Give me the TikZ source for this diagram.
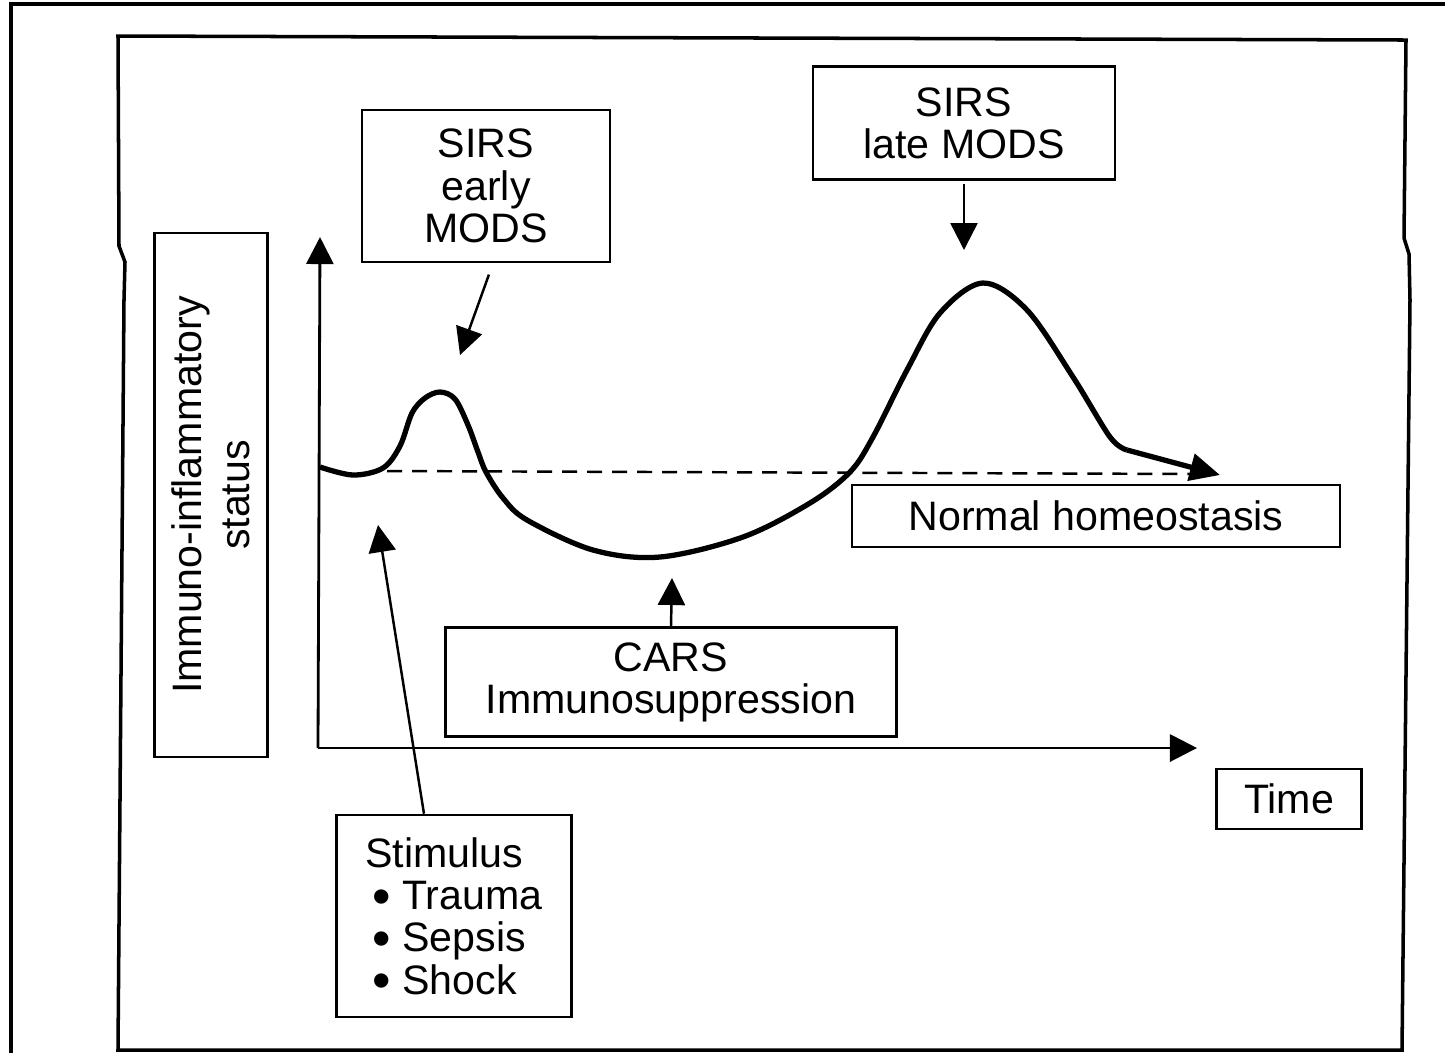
\documentclass[tikz,border=0pt]{standalone}
\usepackage{fontspec}
\setmainfont{Liberation Sans}
\usepackage{tikz}
\usetikzlibrary{arrows.meta}
\newcommand{\boxfont}{\fontsize{11.7}{12}\selectfont}
\newcommand{\bigdot}{\smash{\raisebox{-0.12em}{\fontsize{15}{12}\selectfont\textbullet}}}
\tikzset{
    labelbox/.style = {rectangle, draw=black, line width=0.7pt, inner sep=0pt, align=center, font=\boxfont},
    arrow/.style = {line width=0.7pt, -{Triangle[length=0.27cm, width=0.27cm]}},
    response/.style = {line width=1.5pt, line join=round},
    baseline/.style = {line width=0.7pt, dash pattern=on 0.15cm off 0.1cm},
    frame/.style = {line width=1pt}
}
\begin{document}
\begin{tikzpicture}[x=0.01cm, y=-0.01cm]
\useasboundingbox (0,0) rectangle (1445,1053);
\draw [frame] (11,1053) -- (11,4) -- (1445,4);
\draw [frame] (118,1050) -- (124,300) -- (125,262) -- (119,246) -- (118,36) -- (1406,40) -- (1404,238) -- (1409,254) -- (1410,300) -- (1402,1050) -- cycle;

\node (status) [labelbox, rotate=90, minimum width=5.24cm, minimum height=1.13cm, font=\fontsize{11.7}{13.5}\selectfont] at (211,495) {Immuno-inflammatory\\status};
\node (early) [labelbox, minimum width=2.48cm, minimum height=1.52cm] at (486,186) {SIRS\\early\\MODS};
\node (late) [labelbox, minimum width=3.02cm, minimum height=1.13cm] at (964,123) {SIRS\\late MODS};
\node (homeo) [labelbox, minimum width=4.88cm, minimum height=0.62cm] at (1096,516) {Normal homeostasis};
\node (cars) [labelbox, minimum width=4.51cm, minimum height=1.09cm] at (671,682) {CARS\\Immunosuppression};
\node (time) [labelbox, minimum width=1.45cm, minimum height=0.6cm] at (1289,799) {Time};
\node (stimulus) [labelbox, align=left, minimum width=2.35cm, minimum height=2.02cm] at (454,916) {Stimulus\\\,\bigdot\ Trauma\\\,\bigdot\ Sepsis\\\,\bigdot\ Shock};

\coordinate (origin) at (318,748);
\coordinate (ytip) at (320,237);
\coordinate (xtip) at (1197,748);
\coordinate (basestart) at (387,471);
\coordinate (baseend) at (1200,474);
\coordinate (knee) at (1127,450);
\coordinate (endtip) at (1220,475);
\coordinate (earlytip) at (460,355);
\coordinate (latetip) at (964,250);
\coordinate (carstip) at (672,578);
\coordinate (stimtip) at (378,525);

\draw [arrow, line width=0.8pt] (origin) -- (ytip);
\draw [arrow, line width=0.8pt] (origin) -- (xtip);
\draw [baseline] (basestart) -- (baseend);
\draw [response] plot [smooth, tension=0.55] coordinates {(320,467) (353,475) (383,468) (400,446) (412,413) (425,398) (440,392) (455,399) (468,425) (478,452) (486,472) (503,498) (527,520) (593,550) (660,557) (743,537) (810,503) (850,472) (873,437) (907,370) (940,313) (983,283) (1027,310) (1073,377) (1110,437) (knee)};
\draw [response, -{Triangle[length=0.3cm, width=0.27cm]}] (knee) -- (endtip);

\draw [arrow, shorten <=0.12cm] ([xshift=0.07cm]early.south) -- (earlytip);
\draw [arrow, shorten <=0.03cm] (late.south) -- (latetip);
\draw [arrow] (cars.north) -- (carstip);
\draw [arrow] ([xshift=-0.3cm]stimulus.north) -- (stimtip);
\end{tikzpicture}
\end{document}
